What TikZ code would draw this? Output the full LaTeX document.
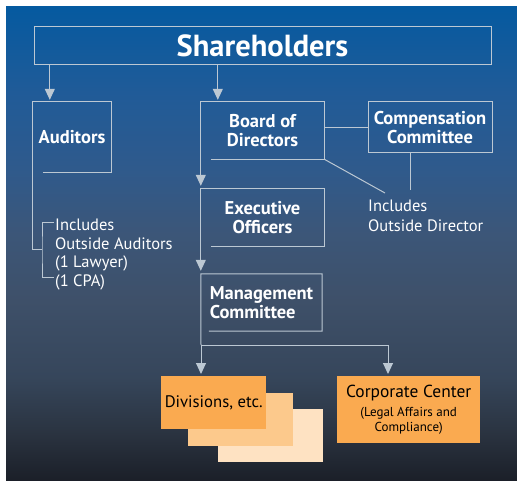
\documentclass[tikz,border=0pt]{standalone}
\usepackage{fontspec}
\setmainfont{PT Sans}
\usetikzlibrary{arrows.meta}
\definecolor{linegray}{HTML}{BCC8D3}
\definecolor{cardorange}{HTML}{FAAA50}
\definecolor{cardlight}{HTML}{FCC98C}
\definecolor{cardpale}{HTML}{FEE2C2}
\pgfdeclareverticalshading{backdrop}{100bp}{
  color(0bp)=(rgb,255:red,27;green,31;blue,40);
  color(25bp)=(rgb,255:red,27;green,31;blue,40);
  color(30bp)=(rgb,255:red,42;green,51;blue,64);
  color(36bp)=(rgb,255:red,54;green,70;blue,91);
  color(44bp)=(rgb,255:red,62;green,80;blue,105);
  color(51bp)=(rgb,255:red,60;green,86;blue,120);
  color(58bp)=(rgb,255:red,47;green,90;blue,140);
  color(66bp)=(rgb,255:red,32;green,91;blue,152);
  color(75bp)=(rgb,255:red,5;green,90;blue,160);
  color(100bp)=(rgb,255:red,5;green,90;blue,160)}
\tikzset{
  frame/.style = {draw = linegray, line width = 1pt},
  link/.style = {draw = linegray, line width = 1pt},
  tip/.style = {-{Triangle[width = 10pt, length = 11pt, fill = linegray]}},
  head/.style = {text = white, font = \bfseries\fontsize{18.5}{19}\selectfont, align = center, inner sep = 0pt},
  note/.style = {text = white, font = \fontsize{16.5}{18.5}\selectfont, align = left, anchor = north west, inner sep = 0pt},
  card/.style = {fill = cardorange, text = black, align = center, inner sep = 0pt, anchor = north west}
}
\begin{document}
\begin{tikzpicture}[x = 1pt, y = -1pt]
\useasboundingbox (0,0) rectangle (517,481);
\pgfmathsetmacro\gap{10};
\pgfmathsetmacro\cardw{105};
\pgfmathsetmacro\cardh{53};
\shade[shading = backdrop] (6,7) rectangle (517,481);
\node[head, frame, font = \bfseries\fontsize{30.5}{32}\selectfont, minimum width = 457pt, minimum height = 38pt] (share) at (262.5,46) {Shareholders};
\node[head, minimum width = 78pt, minimum height = 70pt] (aud) at (72,137) {Auditors};
\node[head, minimum width = 123pt, minimum height = 57pt] (board) at (262.5,130.5) {Board of\\Directors};
\node[head, minimum width = 123pt, minimum height = 57pt] (exec) at (262.5,217.5) {Executive\\Officers};
\node[head, align = left, minimum width = 121pt, minimum height = 57pt] (mgmt) at (261.5,302.5) {Management\\Committee};
\node[head, frame, minimum width = 124pt, minimum height = 51pt] (comp) at (430,127.5) {Compensation\\Committee};
\node[note] (audnote) at (55,219) {Includes\\Outside Auditors\\(1 Lawyer)\\(1 CPA)};
\node[note, font = \fontsize{16.5}{19.5}\selectfont] (dirnote) at (368,200) {Includes\\Outside Director};
\coordinate (audfoot) at (42,250);
\coordinate (brtop) at (54,223);
\coordinate (brbot) at (54,278);
\coordinate (dirtop) at (410,190);
\coordinate (diagend) at (385,193);
\coordinate (split) at (201,345);
\foreach \dx/\dy/\c in {57/33/cardpale, 27/17/cardlight} \fill[\c] (161+\dx,376+\dy) rectangle +(\cardw,\cardh);
\node[card, font = \fontsize{16.7}{18}\selectfont, minimum width = \cardw pt, minimum height = \cardh pt] (div) at (161,376) {Divisions, etc.};
\node[card, font = \fontsize{13}{15}\selectfont, minimum width = 143pt, minimum height = 67pt] (corp) at (337,376) {{\fontsize{17.4}{20}\selectfont Corporate Center}\\[4pt](Legal Affairs and\\Compliance)};
\draw[link, tip] ([xshift = 17pt]aud.north west |- share.south) -- ([xshift = 17pt, yshift = 2pt]aud.north west);
\draw[link, tip] ([xshift = 17pt]board.north west |- share.south) -- ([xshift = 17pt, yshift = 2pt]board.north west);
\draw[frame] ([xshift = \gap pt]aud.south west) -- (aud.south east) -- (aud.north east) -- (aud.north west) |- (audfoot);
\draw[link] (brtop) -| (audfoot) |- (brbot);
\draw[frame, tip] ([xshift = \gap pt]board.south west) -- (board.south east) -- (board.north east) -- (board.north west) -- ([yshift = 3pt]exec.north west);
\draw[frame, tip] ([xshift = \gap pt]exec.south west) -- (exec.south east) -- (exec.north east) -- (exec.north west) -- ([yshift = 3pt]mgmt.north west);
\draw[frame] ([xshift = 8pt]mgmt.south west) -- (mgmt.south east) -- (mgmt.north east) -- (mgmt.north west) -- (split);
\draw[link, tip] (split) -- ([yshift = 2pt]div.north west -| split);
\draw[link, tip] (split) -| ([xshift = 51pt, yshift = 2pt]corp.north west);
\draw[link] (comp.west -| board.east) -- (comp.west);
\draw[link] (comp.south -| dirtop) -- (dirtop);
\draw[link] (board.south east) -- (diagend);
\end{tikzpicture}
\end{document}
